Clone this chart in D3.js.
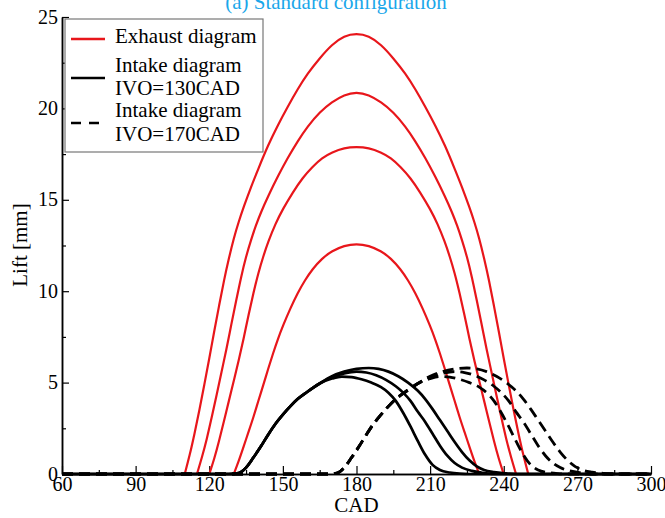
<!DOCTYPE html>
<html>
<head>
<meta charset="utf-8">
<script src="https://cdn.jsdelivr.net/npm/d3@7/dist/d3.min.js"></script>
<style>
  body { margin: 0; background: #fff; }
  svg { display: block; }
  text { font-family: "Liberation Serif", "Times New Roman", serif; }
</style>
</head>
<body>
<div id="graf"></div>
<script>
// Data: [CAD, lift mm]
const exhaust1 = [[110,0],[112,1.0],[114,2.2],[116,3.5],[118,4.9],[120,6.3],[122,7.8],[124,9.2],[126,10.6],[128,11.8],[130,12.9],[132,13.8],[134,14.6],[137,15.7],[140,16.7],[144,18.0],[148,19.1],[152,20.1],[156,21.05],[160,21.9],[165,22.75],[170,23.5],[175,23.98],[180,24.1],
  [185,23.98],[190,23.5],[195,22.75],[200,21.9],[204,21.05],[208,20.1],[212,19.1],[216,18.0],[220,16.7],[223,15.7],[226,14.6],[228,13.8],[230,12.9],[232,11.8],[234,10.6],[236,9.2],[238,7.8],[240,6.3],[242,4.9],[244,3.5],[246,2.2],[248,1.0],[250,0]]
const exhaust2 = [[115,0],[117,0.9],[119,1.9],[121,3.1],[123,4.3],[125,5.6],[127,6.8],[129,8.2],[131,9.5],[133,10.8],[135,11.9],[137,12.8],[139,13.6],[141,14.3],[144,15.2],[148,16.3],[152,17.3],[156,18.2],[160,19.0],[165,19.8],[170,20.35],[175,20.75],[180,20.9],
  [185,20.75],[190,20.35],[195,19.8],[200,19.0],[204,18.2],[208,17.3],[212,16.3],[216,15.2],[219,14.3],[221,13.6],[223,12.8],[225,11.9],[227,10.8],[229,9.5],[231,8.2],[233,6.8],[235,5.6],[237,4.3],[239,3.1],[241,1.9],[243,0.9],[245,0]]
const exhaust3 = [[120,0],[122,0.8],[124,1.8],[126,2.9],[128,4.0],[130,5.1],[132,6.2],[134,7.4],[136,8.7],[138,9.9],[140,11.0],[142,11.9],[144,12.7],[147,13.7],[150,14.5],[154,15.4],[158,16.2],[162,16.8],[166,17.3],[170,17.6],[175,17.85],[180,17.9],
  [185,17.85],[190,17.6],[194,17.3],[198,16.8],[202,16.2],[206,15.4],[210,14.5],[213,13.7],[216,12.7],[218,11.9],[220,11.0],[222,9.9],[224,8.7],[226,7.4],[228,6.2],[230,5.1],[232,4.0],[234,2.9],[236,1.8],[238,0.8],[240,0]]
const exhaust4 = [[130,0],[132,0.7],[134,1.5],[136,2.3],[138,3.1],[140,4.0],[142,4.85],[144,5.75],[146,6.6],[148,7.4],[150,8.1],[153,9.05],[156,9.9],[159,10.6],[162,11.2],[166,11.8],[170,12.2],[175,12.5],[180,12.6],
  [185,12.5],[190,12.2],[194,11.8],[198,11.2],[201,10.6],[204,9.9],[207,9.05],[210,8.1],[212,7.4],[214,6.6],[216,5.75],[218,4.85],[220,4.0],[222,3.1],[224,2.3],[226,1.5],[228,0.7],[230,0]]

// intake IVO=130CAD (solid)
const intake130a = [[60,0],[128,0],[132,0.05],[135,0.35],[138,0.9],[141,1.5],[144,2.15],[147,2.75],[150,3.25],[153,3.7],[156,4.1],[160,4.5],[165,4.95],[170,5.22],[174,5.33],[178,5.3],[182,5.18],[186,5.0],[190,4.75],[193,4.45],[196,4.0],[199,3.35],[202,2.6],[205,1.8],[208,1.05],[211,0.5],[214,0.22],[218,0.08],[222,0.02],[226,0],[300,0]]
const intake130b = [[60,0],[128,0],[132,0.05],[135,0.35],[138,0.9],[141,1.5],[144,2.15],[147,2.75],[150,3.25],[153,3.7],[156,4.1],[160,4.5],[165,4.95],[170,5.3],[175,5.5],[180,5.6],[184,5.55],[188,5.4],[192,5.15],[196,4.8],[199,4.45],[202,4.0],[205,3.4],[208,2.85],[211,2.2],[214,1.55],[217,1.0],[220,0.6],[223,0.35],[227,0.17],[231,0.07],[236,0],[300,0]]
const intake130c = [[60,0],[128,0],[132,0.05],[135,0.35],[138,0.9],[141,1.5],[144,2.15],[147,2.75],[150,3.25],[153,3.7],[156,4.1],[160,4.5],[165,4.95],[170,5.35],[175,5.6],[180,5.75],[185,5.8],[189,5.75],[193,5.6],[197,5.35],[201,5.0],[205,4.55],[208,4.1],[211,3.55],[214,2.95],[217,2.35],[220,1.75],[223,1.2],[226,0.75],[229,0.42],[232,0.22],[236,0.1],[241,0.03],[245,0],[300,0]]

// intake IVO=170CAD (dashed)
const intake170a = [[60,0],[168,0],[172,0.05],[175,0.35],[178,0.9],[181,1.5],[184,2.15],[187,2.75],[190,3.25],[193,3.7],[196,4.1],[200,4.5],[205,4.95],[210,5.22],[214,5.33],[218,5.3],[222,5.18],[226,5.0],[230,4.75],[233,4.45],[236,4.0],[239,3.35],[242,2.6],[245,1.8],[248,1.05],[251,0.5],[254,0.22],[258,0.08],[262,0.02],[266,0],[300,0]]
const intake170b = [[60,0],[168,0],[172,0.05],[175,0.35],[178,0.9],[181,1.5],[184,2.15],[187,2.75],[190,3.25],[193,3.7],[196,4.1],[200,4.5],[205,4.95],[210,5.3],[215,5.5],[220,5.6],[224,5.55],[228,5.4],[232,5.15],[236,4.8],[239,4.45],[242,4.0],[245,3.4],[248,2.85],[251,2.2],[254,1.55],[257,1.0],[260,0.6],[263,0.35],[267,0.17],[271,0.07],[276,0],[300,0]]
const intake170c = [[60,0],[168,0],[172,0.05],[175,0.35],[178,0.9],[181,1.5],[184,2.15],[187,2.75],[190,3.25],[193,3.7],[196,4.1],[200,4.5],[205,4.95],[210,5.35],[215,5.6],[220,5.75],[225,5.8],[229,5.75],[233,5.6],[237,5.35],[241,5.0],[245,4.55],[248,4.1],[251,3.55],[254,2.95],[257,2.35],[260,1.75],[263,1.2],[266,0.75],[269,0.42],[272,0.22],[276,0.1],[281,0.03],[285,0],[300,0]]

const xTicks = [60, 90, 120, 150, 180, 210, 240, 270, 300]
const xMinor = [75, 105, 135, 165, 195, 225, 255, 285]
const yTicks = [0, 5, 10, 15, 20, 25]
const yMinor = [2.5, 7.5, 12.5, 17.5, 22.5]
const legendLabels = [['Exhaust diagram'], ['Intake diagram', 'IVO=130CAD'], ['Intake diagram', 'IVO=170CAD']]
const titulo = '(a) Standard configuration'

// tamaño
const ancho_total = 665, alto_total = 518
const margins = { top: 17, left: 62, right: 14, bottom: 44 }
const ancho = ancho_total - margins.left - margins.right
const alto = alto_total - margins.top - margins.bottom

const svg = d3.select('#graf').append('svg')
  .attr('width', ancho_total)
  .attr('height', alto_total)

const g = svg.append('g')
  .attr('transform', `translate(${margins.left}, ${margins.top})`)

// escalas
const x = d3.scaleLinear().domain([60, 300]).range([0, ancho])
const y = d3.scaleLinear().domain([0, 25]).range([alto, 0])

// title (cut at top edge like the original)
svg.append('text')
  .attr('x', 336)
  .attr('y', 9)
  .attr('text-anchor', 'middle')
  .attr('font-size', '21px')
  .attr('fill', '#1aa7ea')
  .text(titulo)

// ejes
g.append('g').attr('transform', `translate(0, ${alto})`)
  .call(d3.axisBottom(x).tickValues(xMinor).tickFormat('').tickSizeInner(-4).tickSizeOuter(0))
const xAxisG = g.append('g').attr('transform', `translate(0, ${alto})`)
  .call(d3.axisBottom(x).tickValues(xTicks).tickSizeInner(-8).tickSizeOuter(0).tickPadding(3))
g.append('g')
  .call(d3.axisLeft(y).tickValues(yMinor).tickFormat('').tickSizeInner(-4).tickSizeOuter(0))
const yAxisG = g.append('g')
  .call(d3.axisLeft(y).tickValues(yTicks).tickSizeInner(-7).tickSizeOuter(0).tickPadding(4))

g.selectAll('.domain').attr('stroke', '#000').attr('stroke-width', 1.5)
g.selectAll('.tick line').attr('stroke', '#000').attr('stroke-width', 1.2)
xAxisG.selectAll('text').attr('font-size', '20px').attr('fill', '#000')
  .attr('font-family', '"Liberation Serif", serif')
yAxisG.selectAll('text').attr('font-size', '20px').attr('fill', '#000')
  .attr('font-family', '"Liberation Serif", serif').attr('dy', '0.3em')

// axis titles
svg.append('text')
  .attr('x', margins.left + x(180))
  .attr('y', 512)
  .attr('text-anchor', 'middle')
  .attr('font-size', '21px')
  .text('CAD')

svg.append('text')
  .attr('transform', `translate(27, 245) rotate(-90)`)
  .attr('text-anchor', 'middle')
  .attr('font-size', '21px')
  .text('Lift [mm]')

// curvas
const lineRed = d3.line()
  .x(d => x(d[0]))
  .y(d => y(d[1]))
  .curve(d3.curveBasis)
const line = d3.line()
  .x(d => x(d[0]))
  .y(d => y(d[1]))
  .curve(d3.curveMonotoneX)

const curvas = g.append('g')
;[exhaust1, exhaust2, exhaust3, exhaust4].forEach(d => {
  curvas.append('path').datum(d)
    .attr('d', lineRed).attr('fill', 'none')
    .attr('stroke', '#e8161b').attr('stroke-width', 2.2)
})
;[intake130a, intake130b, intake130c].forEach(d => {
  curvas.append('path').datum(d)
    .attr('d', line).attr('fill', 'none')
    .attr('stroke', '#000').attr('stroke-width', 2.7)
})
;[intake170a, intake170b, intake170c].forEach(d => {
  curvas.append('path').datum(d)
    .attr('d', line).attr('fill', 'none')
    .attr('stroke', '#000').attr('stroke-width', 2.8)
    .attr('stroke-dasharray', '11,6')
})

// leyenda
const leg = svg.append('g').attr('transform', 'translate(65, 19)')
leg.append('rect')
  .attr('width', 198).attr('height', 133)
  .attr('fill', '#fff').attr('stroke', '#777').attr('stroke-width', 1.2)

const legStyles = [
  { stroke: '#e8161b', dash: null, ly: 20, ty: [24] },
  { stroke: '#000', dash: null, ly: 59, ty: [53, 76] },
  { stroke: '#000', dash: '10,8', ly: 104, ty: [98, 122] }
]
legStyles.forEach((s, i) => {
  leg.append('line')
    .attr('x1', 6).attr('x2', 40)
    .attr('y1', s.ly).attr('y2', s.ly)
    .attr('stroke', s.stroke).attr('stroke-width', 2.5)
    .attr('stroke-dasharray', s.dash)
  legendLabels[i].forEach((t, j) => {
    leg.append('text')
      .attr('x', 50).attr('y', s.ty[j])
      .attr('font-size', '21px')
      .text(t)
  })
})
</script>
</body>
</html>
